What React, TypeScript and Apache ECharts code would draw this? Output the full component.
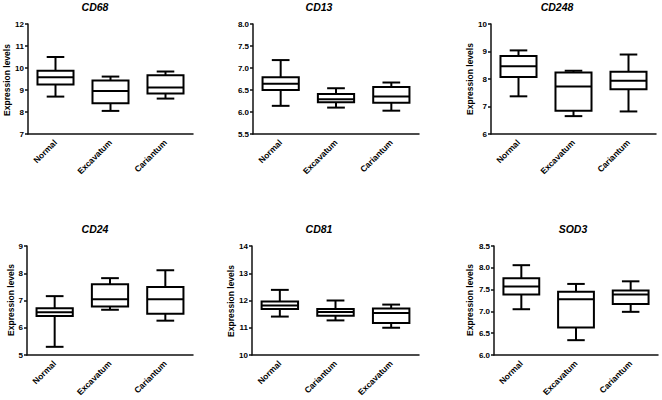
import React, { useEffect, useRef } from "react";
import * as echarts from "echarts";

// ---- data: [min, Q1, median, Q3, max] per category ----
const panelTitles = ["CD68", "CD13", "CD248", "CD24", "CD81", "SOD3"];
const catsStd = ["Normal", "Excavatum", "Cariantum"];
const catsCD81 = ["Normal", "Cariantum", "Excavatum"];

const cd68 = [
  [8.7, 9.25, 9.58, 9.87, 10.5],
  [8.05, 8.4, 8.96, 9.43, 9.61],
  [8.61, 8.84, 9.11, 9.67, 9.84],
];
const cd13 = [
  [6.14, 6.5, 6.64, 6.79, 7.18],
  [6.1, 6.22, 6.29, 6.41, 6.54],
  [6.03, 6.21, 6.35, 6.57, 6.67],
];
const cd248 = [
  [7.37, 8.07, 8.46, 8.84, 9.04],
  [6.65, 6.85, 7.73, 8.24, 8.3],
  [6.82, 7.63, 7.94, 8.26, 8.89],
];
const cd24 = [
  [5.3, 6.43, 6.57, 6.72, 7.16],
  [6.66, 6.78, 7.05, 7.6, 7.82],
  [6.26, 6.51, 7.05, 7.5, 8.11],
];
const cd81 = [
  [11.41, 11.69, 11.82, 11.96, 12.39],
  [11.27, 11.44, 11.58, 11.69, 12.0],
  [11.0, 11.17, 11.54, 11.71, 11.85],
];
const sod3 = [
  [7.05, 7.39, 7.57, 7.76, 8.06],
  [6.34, 6.63, 7.28, 7.45, 7.63],
  [6.99, 7.17, 7.39, 7.48, 7.69],
];

const yMins = [7, 5.5, 6, 5, 10, 6.0];
const yMaxs = [12, 8.0, 10, 9, 14, 8.5];
const yIntervals = [1, 0.5, 1, 1, 1, 0.5];
const yDecimals = [0, 1, 0, 0, 0, 1];
const showYName = [true, false, true, true, true, true];

const panelData = [cd68, cd13, cd248, cd24, cd81, sod3];
const panelCats = [catsStd, catsStd, catsStd, catsStd, catsCD81, catsStd];

// ---- layout ----
const grids = [
  { left: 28, top: 24, width: 165, height: 110 },
  { left: 253, top: 24, width: 166, height: 110 },
  { left: 491, top: 24, width: 165, height: 110 },
  { left: 27, top: 246, width: 166, height: 109 },
  { left: 252, top: 246, width: 167, height: 109 },
  { left: 494, top: 246, width: 164, height: 109 },
];
const titlePos = [
  [95, 7],
  [319, 7],
  [557, 7],
  [95, 229],
  [319, 229],
  [573, 229],
];
const yNamePos = [
  [7, 80],
  [0, 0],
  [470, 79],
  [11, 300],
  [231, 301],
  [470, 300],
];

const FONT = "'Liberation Sans', Arial, Helvetica, sans-serif";

function renderBox(params: any, api: any) {
  const x = api.value(0);
  const vMin = api.value(1);
  const q1 = api.value(2);
  const med = api.value(3);
  const q3 = api.value(4);
  const vMax = api.value(5);
  const band = api.size([1, 0])[0];
  const bw = band * 0.655;
  const cw = band * 0.32;
  const pMin = api.coord([x, vMin]);
  const pQ1 = api.coord([x, q1]);
  const pMed = api.coord([x, med]);
  const pQ3 = api.coord([x, q3]);
  const pMax = api.coord([x, vMax]);
  const cx = pMed[0];
  const st = { stroke: "#000", lineWidth: 2, fill: null };
  return {
    type: "group",
    children: [
      { type: "line", shape: { x1: cx, y1: pMax[1], x2: cx, y2: pQ3[1] }, style: st },
      { type: "line", shape: { x1: cx, y1: pQ1[1], x2: cx, y2: pMin[1] }, style: st },
      { type: "line", shape: { x1: cx - cw / 2, y1: pMax[1], x2: cx + cw / 2, y2: pMax[1] }, style: st },
      { type: "line", shape: { x1: cx - cw / 2, y1: pMin[1], x2: cx + cw / 2, y2: pMin[1] }, style: st },
      {
        type: "rect",
        shape: { x: cx - bw / 2, y: pQ3[1], width: bw, height: pQ1[1] - pQ3[1] },
        style: { stroke: "#000", lineWidth: 2, fill: "#fff" },
      },
      { type: "line", shape: { x1: cx - bw / 2, y1: pMed[1], x2: cx + bw / 2, y2: pMed[1] }, style: st },
    ],
  };
}

export default function App() {
  const ref = useRef<HTMLDivElement>(null);
  useEffect(() => {
    if (!ref.current) return;
    const chart = echarts.init(ref.current, null, { renderer: "svg" });
    const grid = grids.map((g) => ({ ...g, containLabel: false }));
    const xAxis = panelCats.map((cats, i) => ({
      type: "category",
      gridIndex: i,
      data: cats,
      boundaryGap: true,
      axisLine: { lineStyle: { color: "#111", width: 1.5 } },
      axisTick: { alignWithLabel: true, length: 3, lineStyle: { color: "#111", width: 1.5 } },
      axisLabel: {
        rotate: 45,
        margin: 7,
        fontSize: 8.5,
        fontWeight: "bold",
        color: "#000",
        fontFamily: FONT,
        interval: 0,
      },
      splitLine: { show: false },
    }));
    const yAxis = panelData.map((_, i) => ({
      type: "value",
      gridIndex: i,
      min: yMins[i],
      max: yMaxs[i],
      interval: yIntervals[i],
      axisLine: { show: true, lineStyle: { color: "#111", width: 1.5 } },
      axisTick: { show: true, length: 3, lineStyle: { color: "#111", width: 1.5 } },
      axisLabel: {
        margin: 4,
        fontSize: 8,
        fontWeight: "bold",
        color: "#000",
        fontFamily: FONT,
        formatter: (v: number) => v.toFixed(yDecimals[i]),
      },
      splitLine: { show: false },
    }));
    const series = panelData.map((d, i) => ({
      type: "custom",
      xAxisIndex: i,
      yAxisIndex: i,
      renderItem: renderBox,
      encode: { x: 0, y: [1, 2, 3, 4, 5] },
      data: d.map((row, k) => [k, ...row]),
    }));
    const graphic: any[] = [];
    panelTitles.forEach((t, i) => {
      graphic.push({
        type: "text",
        x: titlePos[i][0],
        y: titlePos[i][1],
        style: {
          text: t,
          textAlign: "center",
          textVerticalAlign: "middle",
          font: `italic bold 10.5px ${FONT}`,
          fill: "#000",
        },
      });
      if (showYName[i]) {
        graphic.push({
          type: "text",
          x: yNamePos[i][0],
          y: yNamePos[i][1],
          rotation: Math.PI / 2,
          style: {
            text: "Expression levels",
            textAlign: "center",
            textVerticalAlign: "middle",
            font: `bold 8.5px ${FONT}`,
            fill: "#000",
          },
        });
      }
    });
    chart.setOption({
      animation: false,
      backgroundColor: "#fff",
      grid,
      xAxis,
      yAxis,
      series,
      graphic,
    });
    return () => chart.dispose();
  }, []);
  return (
    <div
      ref={ref}
      style={{ position: "fixed", left: 0, top: 0, width: 662, height: 400, background: "#fff" }}
    />
  );
}
